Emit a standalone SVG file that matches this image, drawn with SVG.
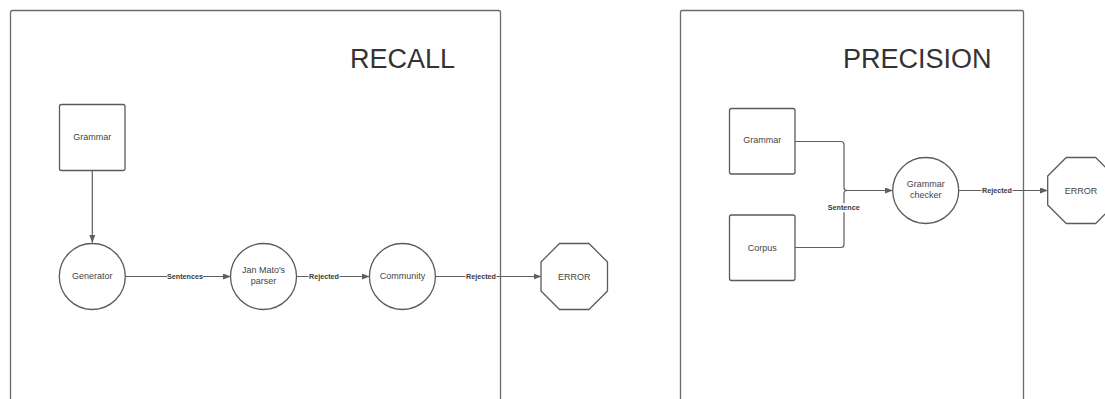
<svg xmlns="http://www.w3.org/2000/svg" width="1105" height="399" viewBox="0 0 1105 399">
  <style>
    .frame { fill: none; stroke: #6b6b6b; stroke-width: 1.3; }
    .title { font-family: "Liberation Sans", Arial, sans-serif; font-size: 27px; fill: #333333; }
    .shape { fill: #ffffff; stroke: #5a5a5a; stroke-width: 1.3; }
    .txt { font-family: "Liberation Sans", Arial, sans-serif; font-size: 9px; fill: #444444; text-anchor: middle; }
    .edge { fill: none; stroke: #5e5e5e; stroke-width: 1.2; }
    .lbl { font-family: "Liberation Sans", Arial, sans-serif; font-size: 7.2px; font-weight: bold; fill: #3a3a3a; text-anchor: middle; }
    .lblbg { fill: #ffffff; }
  </style>
  <defs>
    <marker id="arrow" markerWidth="8" markerHeight="6" refX="7.5" refY="3" orient="auto" markerUnits="userSpaceOnUse">
      <path d="M0,0 L8,3 L0,6 Z" fill="#5e5e5e"/>
    </marker>
  </defs>

  <rect width="1105" height="399" fill="#ffffff"/>

  <!-- panels -->
  <g id="panel-recall">
    <rect class="frame" x="10.5" y="10.5" width="490" height="420" rx="2"/>
    <text class="title" x="350" y="67.5">RECALL</text>
  </g>
  <g id="panel-precision">
    <rect class="frame" x="680.5" y="10.5" width="343" height="420" rx="2"/>
    <text class="title" x="843" y="67.5">PRECISION</text>
  </g>

  <!-- connectors -->
  <g id="connectors">
    <path class="edge" d="M92.3,170.5 V242.5" marker-end="url(#arrow)"/>
    <path class="edge" d="M125.3,276.5 H230.5" marker-end="url(#arrow)"/>
    <path class="edge" d="M296.5,276.5 H369.3" marker-end="url(#arrow)"/>
    <path class="edge" d="M435.5,276.5 H541" marker-end="url(#arrow)"/>
    <path class="edge" d="M795,141.5 H841 Q844,141.5 844,144.5 V187.5 Q844,190.5 847,190.5 H892.5" marker-end="url(#arrow)"/>
    <path class="edge" d="M795,247.5 H841 Q844,247.5 844,244.5 V193.5 Q844,190.5 847,190.5 H892.5"/>
    <path class="edge" d="M958.7,190.5 H1047.5" marker-end="url(#arrow)"/>

    <rect class="lblbg" x="167" y="272" width="36" height="9"/>
    <text class="lbl" x="185" y="279.2">Sentences</text>
    <rect class="lblbg" x="308.5" y="272" width="31" height="9"/>
    <text class="lbl" x="324" y="279.2">Rejected</text>
    <rect class="lblbg" x="465.5" y="272" width="31" height="9"/>
    <text class="lbl" x="481" y="279.2">Rejected</text>
    <rect class="lblbg" x="828" y="203.2" width="31.5" height="9"/>
    <text class="lbl" x="843.7" y="210.4">Sentence</text>
    <rect class="lblbg" x="981.5" y="186" width="31" height="9"/>
    <text class="lbl" x="997" y="193.2">Rejected</text>
  </g>

  <!-- recall nodes -->
  <g id="grammar-recall">
    <rect class="shape" x="59.5" y="104.5" width="65.5" height="66" rx="2"/>
    <text class="txt" x="92.3" y="139.5">Grammar</text>
  </g>
  <g id="generator">
    <circle class="shape" cx="92.3" cy="276.5" r="33"/>
    <text class="txt" x="92.3" y="278.5">Generator</text>
  </g>
  <g id="parser">
    <circle class="shape" cx="263.5" cy="276.5" r="33"/>
    <text class="txt" x="263.5" y="272.5">Jan Mato's</text>
    <text class="txt" x="263.5" y="283.5">parser</text>
  </g>
  <g id="community">
    <circle class="shape" cx="402.4" cy="276.5" r="33"/>
    <text class="txt" x="402.4" y="278.5">Community</text>
  </g>
  <g id="error-recall">
    <path class="shape" d="M559.5,243.5 H589 L607.5,262 V291 L589,309.5 H559.5 L541,291 V262 Z" stroke-linejoin="round"/>
    <text class="txt" x="574.2" y="279.5">ERROR</text>
  </g>

  <!-- precision nodes -->
  <g id="grammar-precision">
    <rect class="shape" x="729.5" y="108.5" width="65.5" height="65.5" rx="2"/>
    <text class="txt" x="762.2" y="143.3">Grammar</text>
  </g>
  <g id="corpus">
    <rect class="shape" x="729.5" y="215" width="65.5" height="65.5" rx="2"/>
    <text class="txt" x="762.2" y="250.5">Corpus</text>
  </g>
  <g id="grammar-checker">
    <circle class="shape" cx="925.7" cy="190.5" r="33"/>
    <text class="txt" x="925.7" y="186.5">Grammar</text>
    <text class="txt" x="925.7" y="197.5">checker</text>
  </g>
  <g id="error-precision">
    <path class="shape" d="M1066.2,157.5 H1095.7 L1114.2,176 V205 L1095.7,223.5 H1066.2 L1047.7,205 V176 Z" stroke-linejoin="round"/>
    <text class="txt" x="1080.9" y="193.5">ERROR</text>
  </g>
</svg>
